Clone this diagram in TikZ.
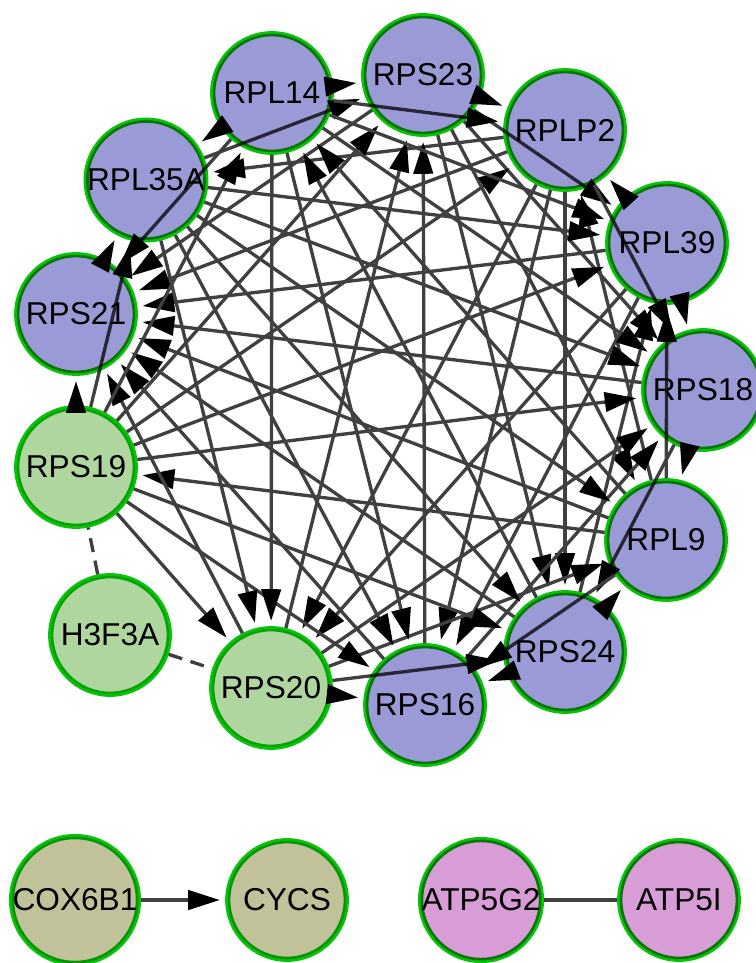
\documentclass[tikz,border=0pt]{standalone}
\usepackage{fontspec}
\setmainfont{Liberation Sans}
\usepackage{tikz}
\usetikzlibrary{arrows.meta,backgrounds}

\definecolor{riboblue}{RGB}{154,154,214}
\definecolor{ribogreen}{RGB}{176,214,160}
\definecolor{oxolive}{RGB}{194,194,154}
\definecolor{atppink}{RGB}{216,156,214}
\definecolor{rimgreen}{RGB}{8,196,8}
\definecolor{linkgray}{RGB}{64,64,64}

\begin{document}
\begin{tikzpicture}[x=0.02cm, y=-0.02cm,
  gene/.style={circle, draw=rimgreen, line width=3pt, minimum size=2.37cm, inner sep=0pt,
    font=\fontsize{18}{21}\selectfont, blend mode=multiply},
  ribo/.style={gene, fill=riboblue},
  seed/.style={gene, fill=ribogreen},
  oxid/.style={gene, fill=oxolive},
  atps/.style={gene, fill=atppink},
  link/.style={draw=linkgray, line width=1.9pt,
    -{Triangle[length=18pt,width=11pt,color=black]}, shorten >=3pt},
  plainlink/.style={draw=linkgray, line width=1.9pt},
  guess/.style={plainlink, dash pattern=on 8pt off 5pt}]
  \useasboundingbox (0,0) rectangle (755,963);

  % ring
  \node[ribo] (rps23) at (423,75) {RPS23};
  \node[ribo] (rplp2) at (565,130) {RPLP2};
  \node[ribo] (rpl39) at (667,243) {RPL39};
  \node[ribo] (rps18) at (703,390) {RPS18};
  \node[ribo] (rpl9) at (666,540) {RPL9};
  \node[ribo] (rps24) at (565,652) {RPS24};
  \node[ribo] (rps16) at (425,705) {RPS16};
  \node[seed] (rps20) at (271,688) {RPS20};
  \node[seed] (h3f3a) at (110,635) {H3F3A};
  \node[seed] (rps19) at (76,467) {RPS19};
  \node[ribo] (rps21) at (76,314) {RPS21};
  \node[ribo] (rpl35a) at (146,180) {RPL35A};
  \node[ribo] (rpl14) at (272,93) {RPL14};

  % small pairs
  \node[oxid] (cox6b1) at (75,900) {COX6B1};
  \node[oxid] (cycs) at (287,900) {CYCS};
  \node[atps] (atp5g2) at (481,900) {ATP5G2};
  \node[atps] (atp5i) at (679,900) {ATP5I};

  \begin{scope}[on background layer]
  \path[link]
    (rps23) edge (rplp2) edge (rpl39) edge (rps18) edge (rpl9) edge (rps24) edge (rps21)
    (rplp2) edge (rps18) edge (rps24) edge (rps16) edge (rps20) edge (rps21) edge (rpl35a)
    (rpl39) edge (rplp2) edge (rps18) edge (rps16) edge (rps20) edge (rps21)
    (rps18) edge (rpl9) edge (rps24) edge (rps21)
    (rpl9) edge (rplp2) edge (rpl39) edge (rps16) edge (rps19) edge (rps21) edge (rpl14)
    (rps24) edge (rpl39) edge (rpl9) edge (rps16) edge (rps21) edge (rpl14)
    (rps16) edge (rps23) edge (rps18) edge (rps21)
    (rps20) edge (rps23) edge (rps18) edge (rpl9) edge (rps24) edge (rps16) edge (rps21)
    (rps19) edge (rps23) edge (rplp2) edge (rpl39) edge (rps18) edge (rps24)
            edge (rps16) edge (rps20) edge (rps21) edge (rpl35a) edge (rpl14)
    (rps21) edge (rpl35a)
    (rpl35a) edge (rps23) edge (rpl39) edge (rps18) edge (rpl9) edge (rps24) edge (rps16) edge (rps20)
    (rpl14) edge (rps23) edge (rplp2) edge (rpl39) edge (rps18) edge (rps16) edge (rps20)
            edge (rps21) edge (rpl35a)
    (cox6b1) edge (cycs);
  \path[guess]
    (h3f3a) edge (rps19) edge (rps20);
  \path[plainlink]
    (atp5g2) edge (atp5i);
  \end{scope}
\end{tikzpicture}
\end{document}
